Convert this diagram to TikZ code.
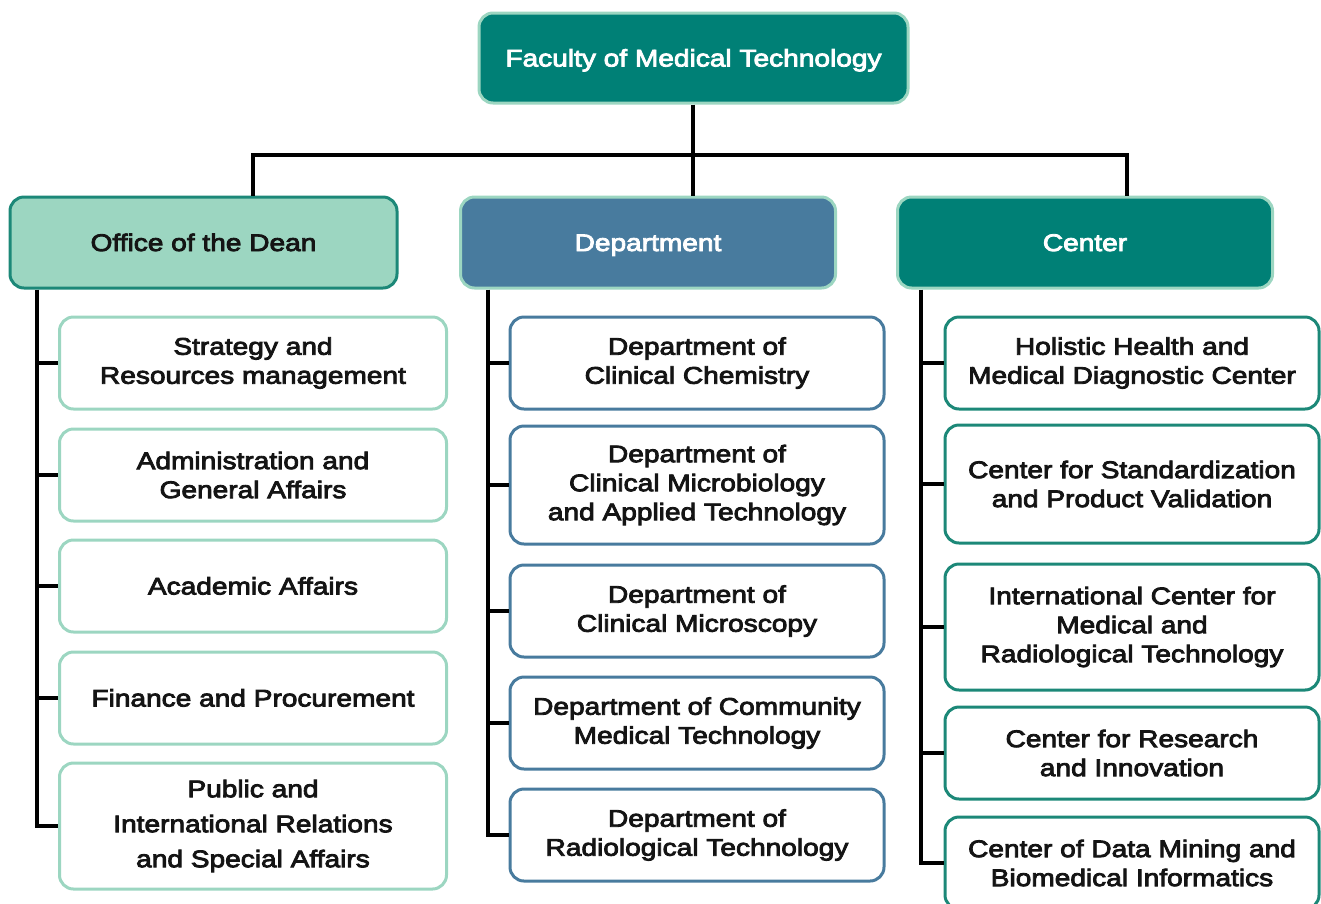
\documentclass[tikz,border=0pt]{standalone}
\usepackage{fontspec}
\setmainfont[FakeStretch=1.17,FakeBold=3.5]{Liberation Sans}
\definecolor{teal}{RGB}{0,128,118}
\definecolor{mint}{RGB}{156,214,193}
\definecolor{steel}{RGB}{72,123,158}
\definecolor{darkteal}{RGB}{28,136,120}
\definecolor{ink}{RGB}{20,20,20}
\begin{document}
\begin{tikzpicture}[x=1pt,y=-1pt,
  box/.style={rounded corners=14pt, line width=3pt, align=center, inner sep=0pt,
    font=\fontsize{24}{29}\selectfont},
  one/.style={text height=17pt, text depth=0pt},
  headbox/.style={box, one, minimum width=375pt, minimum height=91pt},
  leftbox/.style={box, draw=mint, fill=white, text=ink, minimum width=387pt},
  midbox/.style={box, draw=steel, fill=white, text=ink, minimum width=374pt},
  rightbox/.style={box, draw=darkteal, fill=white, text=ink, minimum width=374pt},
  conn/.style={line width=4pt, black}]
\useasboundingbox (0,0) rectangle (1321,903);
% top
\node[box, one, draw=mint, fill=teal, text=white, minimum width=429pt, minimum height=90pt] (top) at (693.5,58) {Faculty of Medical Technology};
% heads
\node[headbox, minimum width=387pt, draw=darkteal, fill=mint, text=ink] (dean) at (203.5,242.5) {Office of the Dean};
\node[headbox, draw=mint, fill=steel, text=white] (dept) at (648,242.5) {Department};
\node[headbox, draw=mint, fill=teal, text=white] (ctr) at (1085,242.5) {Center};
% left children
\node[leftbox, minimum height=92pt] (l1) at (253,363) {Strategy and\\Resources management};
\node[leftbox, minimum height=92pt] (l2) at (253,475) {Administration and\\General Affairs};
\node[leftbox, one, minimum height=92pt] (l3) at (253,586) {Academic Affairs};
\node[leftbox, one, minimum height=92pt] (l4) at (253,698) {Finance and Procurement};
\node[leftbox, minimum height=126pt, font=\fontsize{24}{35}\selectfont] (l5) at (253,826) {Public and\\International Relations\\and Special Affairs};
% middle children
\node[midbox, minimum height=92pt] (m1) at (697,363) {Department of\\Clinical Chemistry};
\node[midbox, minimum height=118pt] (m2) at (697,485) {Department of\\Clinical Microbiology\\and Applied Technology};
\node[midbox, minimum height=92pt] (m3) at (697,611) {Department of\\Clinical Microscopy};
\node[midbox, minimum height=92pt] (m4) at (697,723) {Department of Community\\Medical Technology};
\node[midbox, minimum height=92pt] (m5) at (697,835) {Department of\\Radiological Technology};
% right children
\node[rightbox, minimum height=92pt] (r1) at (1132,363) {Holistic Health and\\Medical Diagnostic Center};
\node[rightbox, minimum height=118pt] (r2) at (1132,484) {Center for Standardization\\and Product Validation};
\node[rightbox, minimum height=126pt] (r3) at (1132,627) {International Center for\\Medical and\\Radiological Technology};
\node[rightbox, minimum height=92pt] (r4) at (1132,753) {Center for Research\\and Innovation};
\node[rightbox, minimum height=92pt] (r5) at (1132,863) {Center of Data Mining and\\Biomedical Informatics};
% bus
\coordinate (b1) at (253,155);
\coordinate (b2) at (693,155);
\coordinate (b3) at (1127,155);
\coordinate (sL) at (37,0);
\coordinate (sM) at (488,0);
\coordinate (sR) at (921,0);
\draw[conn] (top.south -| b2) -- (b2 |- dept.north);
\draw[conn] (b1 |- dean.north) -- (b1) -- (b3) -- (b3 |- ctr.north);
% spines
\draw[conn] (sL |- dean.south) -- (sL |- l5.west) -- (l5.west);
\foreach \n in {l1,l2,l3,l4} \draw[conn] (sL |- \n.west) -- (\n.west);
\draw[conn] (sM |- dept.south) -- (sM |- m5.west) -- (m5.west);
\foreach \n in {m1,m2,m3,m4} \draw[conn] (sM |- \n.west) -- (\n.west);
\draw[conn] (sR |- ctr.south) -- (sR |- r5.west) -- (r5.west);
\foreach \n in {r1,r2,r3,r4} \draw[conn] (sR |- \n.west) -- (\n.west);
\end{tikzpicture}
\end{document}
